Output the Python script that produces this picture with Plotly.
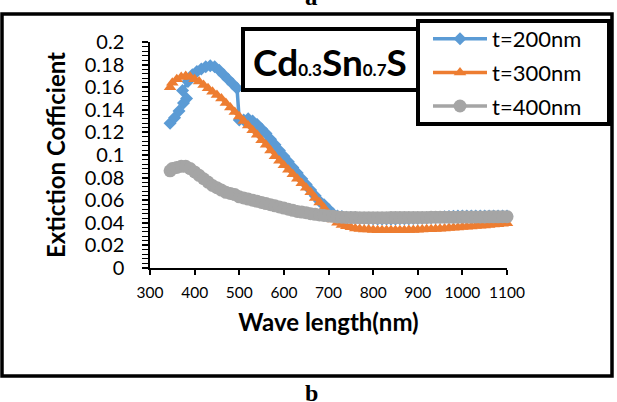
import plotly.graph_objects as go

# Wavelength grid (nm) shared by the 300 nm and 400 nm films
wl = [345, 350, 360, 370, 380, 390, 400, 410, 420, 430, 440, 450, 460, 470, 480, 490,
      500, 510, 520, 530, 540, 550, 560, 570, 580, 590, 600, 610, 620, 630, 640, 650,
      660, 670, 680, 690, 700, 710, 720, 730, 740, 750, 760, 770, 780, 790, 800, 810,
      820, 830, 840, 850, 860, 870, 880, 890, 900, 910, 920, 930, 940, 950, 960, 970,
      980, 990, 1000, 1010, 1020, 1030, 1040, 1050, 1060, 1070, 1080, 1090, 1100]

# t = 200 nm film (its own wavelength samples)
wl_200 = [345, 355, 365, 375, 382, 373, 385, 395, 405, 415, 425, 435, 445, 455, 465, 475,
          485, 495, 500, 510, 520, 530, 540, 550, 560, 570, 580, 590, 600, 610, 620, 630,
          640, 650, 660, 670, 680, 690, 700, 710, 720, 730, 740, 750, 760, 770, 780, 790,
          800, 810, 820, 830, 840, 850, 860, 870, 880, 890, 900, 910, 920, 930, 940, 950,
          960, 970, 980, 990, 1000, 1010, 1020, 1030, 1040, 1050, 1060, 1070, 1080, 1090, 1100]
k_200 = [0.128, 0.133, 0.139, 0.146, 0.150, 0.157, 0.165, 0.171, 0.174, 0.176, 0.178, 0.179,
         0.178, 0.175, 0.171, 0.167, 0.163, 0.159, 0.131, 0.131, 0.132, 0.130, 0.127, 0.123,
         0.119, 0.114, 0.109, 0.104, 0.099, 0.094, 0.089, 0.084, 0.079, 0.074, 0.069, 0.064,
         0.059, 0.056, 0.052, 0.048, 0.046, 0.0455, 0.045, 0.0448, 0.0445, 0.044, 0.0438,
         0.0436, 0.0435, 0.0434, 0.0434, 0.0434, 0.0434, 0.0434, 0.0435, 0.0435, 0.0436,
         0.0437, 0.0438, 0.044, 0.0442, 0.0444, 0.0447, 0.045, 0.0453, 0.0456, 0.0458, 0.046,
         0.046, 0.046, 0.046, 0.046, 0.046, 0.046, 0.046, 0.046, 0.046, 0.046, 0.046]

# t = 300 nm film
k_300 = [0.160, 0.164, 0.167, 0.169, 0.170, 0.169, 0.167, 0.165, 0.162, 0.159, 0.156, 0.153,
         0.150, 0.146, 0.142, 0.138, 0.134, 0.130, 0.126, 0.122, 0.118, 0.113, 0.109, 0.104,
         0.099, 0.095, 0.091, 0.087, 0.083, 0.079, 0.075, 0.071, 0.067, 0.062, 0.058, 0.053,
         0.048, 0.043, 0.040, 0.038, 0.037, 0.036, 0.035, 0.0345, 0.034, 0.034, 0.0337,
         0.0335, 0.0335, 0.0334, 0.0334, 0.0334, 0.0335, 0.0335, 0.0336, 0.0337, 0.0338,
         0.034, 0.0342, 0.0344, 0.0346, 0.0348, 0.035, 0.0353, 0.0356, 0.0359, 0.0362,
         0.0365, 0.0368, 0.0371, 0.0374, 0.0377, 0.038, 0.0384, 0.0388, 0.0392, 0.0396]

# t = 400 nm film
k_400 = [0.086, 0.088, 0.089, 0.090, 0.090, 0.088, 0.085, 0.082, 0.079, 0.076, 0.073, 0.071,
         0.069, 0.067, 0.066, 0.065, 0.063, 0.062, 0.061, 0.060, 0.059, 0.058, 0.057, 0.056,
         0.055, 0.054, 0.053, 0.052, 0.051, 0.050, 0.0495, 0.049, 0.048, 0.0475, 0.047,
         0.0465, 0.046, 0.0457, 0.0452, 0.045, 0.0448, 0.0447, 0.0446, 0.0445, 0.0445,
         0.0445, 0.0445, 0.0445, 0.0445, 0.0445, 0.0446, 0.0446, 0.0446, 0.0447, 0.0447,
         0.0447, 0.0448, 0.0448, 0.0448, 0.0449, 0.0449, 0.0449, 0.045, 0.045, 0.045, 0.045,
         0.0451, 0.0451, 0.0451, 0.0452, 0.0452, 0.0452, 0.0453, 0.0453, 0.0453, 0.0454, 0.0454]

series_names = ["t=200nm", "t=300nm", "t=400nm"]
colors = ["#5B9BD5", "#ED7D31", "#A5A5A5"]
x_ticks = [300, 400, 500, 600, 700, 800, 900, 1000, 1100]

W, H = 617, 402
L, R, T, B = 150, 507, 42, 268  # plot-area edges in pixels


def px_x(x):
    return (x - L) / (R - L)


def px_y(y):
    return (B - y) / (B - T)


fig = go.Figure()
fig.add_trace(go.Scatter(x=wl_200, y=k_200, name=series_names[0], mode="lines+markers",
                         line=dict(color=colors[0], width=3.5),
                         marker=dict(symbol="diamond", size=10, color=colors[0]),
                         cliponaxis=False, legendgroup="a"))
fig.add_trace(go.Scatter(x=wl, y=k_300, name=series_names[1], mode="lines+markers",
                         line=dict(color=colors[1], width=3.5),
                         marker=dict(symbol="triangle-up", size=11, color=colors[1]),
                         cliponaxis=False, legendgroup="b"))
fig.add_trace(go.Scatter(x=wl, y=k_400, name=series_names[2], mode="lines+markers",
                         line=dict(color=colors[2], width=3.5),
                         marker=dict(symbol="circle", size=13, color=colors[2]),
                         cliponaxis=False, legendgroup="c"))

shapes = [
    # outer frame
    dict(type="rect", xref="paper", yref="paper",
         x0=px_x(2), x1=px_x(612), y0=px_y(376), y1=px_y(14),
         line=dict(color="black", width=3.5)),
    # compound label box
    dict(type="rect", xref="paper", yref="paper",
         x0=px_x(243), x1=px_x(418), y0=px_y(90), y1=px_y(29),
         line=dict(color="black", width=4), fillcolor="white"),
    # legend box
    dict(type="rect", xref="paper", yref="paper",
         x0=px_x(418), x1=px_x(609), y0=px_y(124), y1=px_y(21),
         line=dict(color="black", width=4), fillcolor="white"),
]

annotations = [
    dict(text="<b>Cd<span style='font-size:17px'>0.3</span>Sn<span style='font-size:17px'>0.7</span>S</b>",
         xref="paper", yref="paper", x=px_x(330), y=px_y(61),
         xanchor="center", yanchor="middle", showarrow=False,
         font=dict(family="Lato", size=37, color="black")),
    dict(text="<b>a</b>", xref="paper", yref="paper", x=px_x(311), y=px_y(12),
         xanchor="center", yanchor="bottom", showarrow=False,
         font=dict(family="Liberation Serif", size=25, color="black")),
    dict(text="<b>b</b>", xref="paper", yref="paper", x=px_x(311), y=px_y(378),
         xanchor="center", yanchor="top", showarrow=False,
         font=dict(family="Liberation Serif", size=24, color="black")),
]

fig.update_layout(
    width=W, height=H,
    margin=dict(l=L, r=W - R, t=T, b=H - B, autoexpand=False),
    paper_bgcolor="white", plot_bgcolor="white",
    font=dict(family="Lato", color="black"),
    shapes=shapes, annotations=annotations,
    showlegend=True,
    legend=dict(x=px_x(428), y=px_y(18), xanchor="left", yanchor="top",
                bgcolor="rgba(0,0,0,0)", borderwidth=0,
                font=dict(family="Lato", size=22, color="black"),
                traceorder="grouped", tracegroupgap=2, itemwidth=54),
    xaxis=dict(range=[300, 1100], tickvals=x_ticks, ticks="outside", ticklen=5,
               tickwidth=1.5, tickcolor="black", showline=True, linewidth=1.5,
               linecolor="black", showgrid=False, zeroline=False,
               tickfont=dict(family="Lato", size=15.5), ticklabelstandoff=5,
               title=dict(text="<b>Wave length(nm)</b>", standoff=14,
                          font=dict(family="Lato", size=24))),
    yaxis=dict(range=[0, 0.2], dtick=0.02, ticks="outside", ticklen=6,
               tickwidth=1.5, tickcolor="black", showline=True, linewidth=1.5,
               linecolor="black", showgrid=False, zeroline=False,
               tickfont=dict(family="Lato", size=20), ticklabelstandoff=14,
               minor=dict(dtick=0.004, ticks="outside", ticklen=6, tickwidth=1,
                          tickcolor="black", showgrid=False),
               title=dict(text="<b>Extiction Cofficient</b>", standoff=12,
                          font=dict(family="Lato", size=24))),
)

fig.write_html("out.html")
